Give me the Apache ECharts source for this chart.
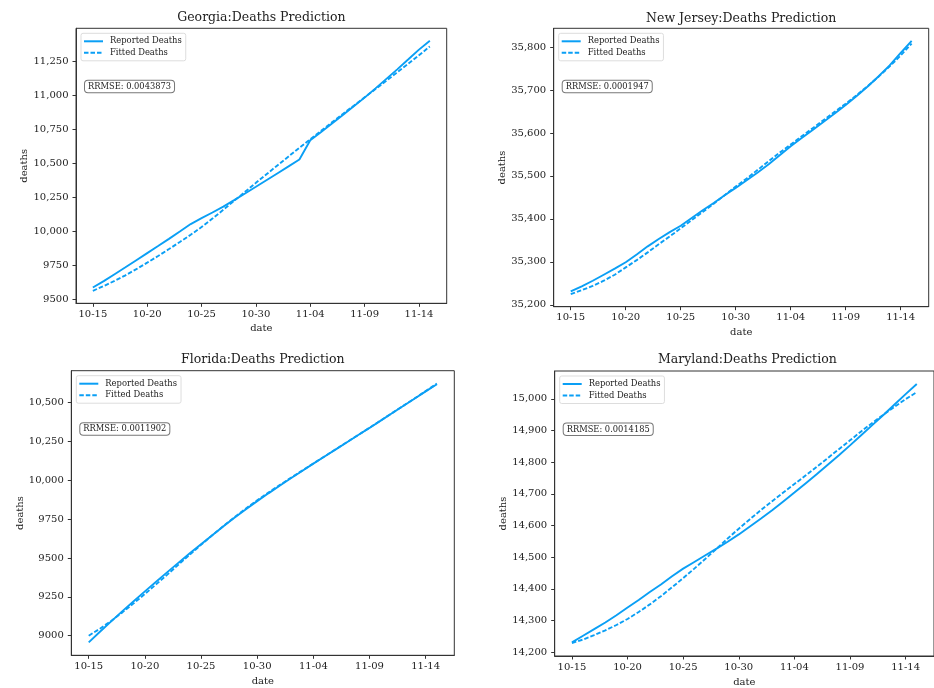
<!DOCTYPE html>
<html>
<head>
<meta charset="utf-8">
<script src="https://cdn.jsdelivr.net/npm/echarts@6/dist/echarts.min.js"></script>
<style>
  html, body { margin: 0; padding: 0; background: #fff; }
  #chart { width: 934px; height: 688px; }
</style>
</head>
<body>
<div id="chart"></div>
<script>
// Dates covered by every panel (day index 0 .. 31)
const dates = ['10-15','10-16','10-17','10-18','10-19','10-20','10-21','10-22','10-23','10-24',
  '10-25','10-26','10-27','10-28','10-29','10-30','10-31','11-01','11-02','11-03',
  '11-04','11-05','11-06','11-07','11-08','11-09','11-10','11-11','11-12','11-13',
  '11-14','11-15'];
const xTickDays = [0, 5, 10, 15, 20, 25, 30];

// Georgia
const georgiaReported = [9585, 9632, 9683, 9734, 9786, 9838, 9890, 9943, 9997, 10052,
  10095, 10137, 10180, 10228, 10277, 10326, 10376, 10426, 10476, 10527,
  10668, 10730, 10792, 10855, 10918, 10982, 11050, 11120, 11190, 11262, 11335, 11400];
const georgiaFitted = [9561, 9596, 9634, 9675, 9720, 9768, 9817, 9868, 9920, 9973,
  10030, 10092, 10157, 10223, 10289, 10355, 10420, 10485, 10549, 10613,
  10676, 10738, 10800, 10862, 10923, 10984, 11045, 11106, 11168, 11230, 11294, 11358];
const georgiaTicks = [9500, 9750, 10000, 10250, 10500, 10750, 11000, 11250];
const georgiaRRMSE = 'RRMSE: 0.0043873';

// New Jersey
const newJerseyReported = [35231, 35243, 35256, 35270, 35284, 35299, 35317, 35336, 35353, 35369,
  35384, 35402, 35420, 35437, 35455, 35472, 35490, 35508, 35527, 35548,
  35569, 35588, 35607, 35626, 35645, 35665, 35686, 35708, 35732, 35757, 35786, 35814];
const newJerseyFitted = [35225, 35234, 35244, 35256, 35270, 35287, 35304, 35322, 35341, 35359,
  35378, 35397, 35416, 35435, 35455, 35475, 35494, 35514, 35534, 35554,
  35573, 35592, 35611, 35630, 35649, 35668, 35688, 35709, 35731, 35755, 35780, 35808];
const newJerseyTicks = [35200, 35300, 35400, 35500, 35600, 35700, 35800];
const newJerseyRRMSE = 'RRMSE: 0.0001947';

// Florida
const floridaReported = [8957, 9025, 9092, 9158, 9222, 9285, 9347, 9409, 9470, 9530,
  9589, 9647, 9704, 9760, 9814, 9866, 9916, 9965, 10013, 10060,
  10107, 10153, 10199, 10245, 10291, 10337, 10384, 10431, 10478, 10525, 10572, 10618];
const floridaFitted = [9000, 9045, 9095, 9150, 9208, 9268, 9330, 9393, 9458, 9522,
  9585, 9646, 9706, 9764, 9819, 9871, 9921, 9969, 10016, 10062,
  10108, 10154, 10200, 10246, 10292, 10338, 10385, 10432, 10479, 10526, 10574, 10622];
const floridaTicks = [9000, 9250, 9500, 9750, 10000, 10250, 10500];
const floridaRRMSE = 'RRMSE: 0.0011902';

// Maryland
const marylandReported = [14231, 14252, 14273, 14294, 14317, 14341, 14365, 14390, 14414, 14440,
  14464, 14485, 14506, 14527, 14549, 14572, 14597, 14622, 14648, 14676,
  14704, 14733, 14762, 14792, 14822, 14853, 14885, 14917, 14949, 14982, 15015, 15047];
const marylandFitted = [14229, 14240, 14254, 14269, 14286, 14305, 14327, 14351, 14377, 14405,
  14434, 14464, 14495, 14527, 14559, 14590, 14620, 14649, 14677, 14704,
  14731, 14758, 14785, 14813, 14841, 14869, 14897, 14924, 14950, 14975, 14999, 15021];
const marylandTicks = [14200, 14300, 14400, 14500, 14600, 14700, 14800, 14900, 15000];
const marylandRRMSE = 'RRMSE: 0.0014185';

const LINE_COLOR = '#0a9ff5';
const INK = '#222';
const FRAME = '#333';
const FONT = '"DejaVu Serif", "Liberation Serif", serif';

// Panel geometry: plot box [left, top, width, height] plus label offsets
const panels = [
  { title: 'Georgia:Deaths Prediction', reported: georgiaReported, fitted: georgiaFitted,
    ticks: georgiaTicks, rrmse: georgiaRRMSE, box: [76, 28.3, 370.7, 275], titleY: 17.5,
    yGap: 40.5, xGap: 20.5 },
  { title: 'New Jersey:Deaths Prediction', reported: newJerseyReported, fitted: newJerseyFitted,
    ticks: newJerseyTicks, rrmse: newJerseyRRMSE, box: [553.7, 28.3, 375, 278.4], titleY: 18.3,
    yGap: 44.5, xGap: 20.5 },
  { title: 'Florida:Deaths Prediction', reported: floridaReported, fitted: floridaFitted,
    ticks: floridaTicks, rrmse: floridaRRMSE, box: [71.3, 370.7, 383, 284.6], titleY: 359.3,
    yGap: 44.5, xGap: 21 },
  { title: 'Maryland:Deaths Prediction', reported: marylandReported, fitted: marylandFitted,
    ticks: marylandTicks, rrmse: marylandRRMSE, box: [554.7, 371, 385.3, 285.7], titleY: 360,
    yGap: 44.5, xGap: 21 }
];

// matplotlib-style 5% autoscale margins
function paddedRange(lo, hi) {
  const pad = (hi - lo) * 0.05;
  return [lo - pad, hi + pad];
}
function fmtDeaths(v) {
  const s = String(Math.round(v));
  return v >= 10000 ? s.replace(/\B(?=(\d{3})+(?!\d))/g, ',') : s;
}

const option = {
  backgroundColor: '#fff',
  animation: false,
  grid: [], xAxis: [], yAxis: [], series: [], legend: [], graphic: []
};

const xRange = paddedRange(0, dates.length - 1);

panels.forEach((p, k) => {
  const [left, top, width, height] = p.box;
  const all = p.reported.concat(p.fitted);
  const yRange = paddedRange(Math.min(...all), Math.max(...all));

  option.grid.push({
    left: left, top: top, width: width, height: height,
    show: true, borderColor: FRAME, borderWidth: 1, backgroundColor: 'transparent'
  });

  option.xAxis.push({
    type: 'value', gridIndex: k, min: xRange[0], max: xRange[1], position: 'bottom',
    name: 'date', nameLocation: 'middle', nameGap: p.xGap,
    nameTextStyle: { fontFamily: FONT, fontSize: 10, color: INK },
    axisLine: { show: true, onZero: false, lineStyle: { color: FRAME, width: 1 } },
    splitLine: { show: false },
    axisTick: { show: true, inside: false, customValues: xTickDays, length: 3.5,
      lineStyle: { color: FRAME, width: 1 } },
    axisLabel: { customValues: xTickDays, margin: 6, fontFamily: FONT, fontSize: 10, color: INK,
      formatter: v => dates[Math.round(v)] }
  });

  option.yAxis.push({
    type: 'value', gridIndex: k, min: yRange[0], max: yRange[1], position: 'left',
    name: 'deaths', nameLocation: 'middle', nameGap: p.yGap, nameRotate: 90,
    nameTextStyle: { fontFamily: FONT, fontSize: 10, color: INK },
    axisLine: { show: true, onZero: false, lineStyle: { color: FRAME, width: 1 } },
    splitLine: { show: false },
    axisTick: { show: true, inside: false, customValues: p.ticks, length: 3.5,
      lineStyle: { color: FRAME, width: 1 } },
    axisLabel: { customValues: p.ticks, margin: 7.5, fontFamily: FONT, fontSize: 10, color: INK,
      formatter: fmtDeaths }
  });

  option.series.push({
    name: 'Reported Deaths', type: 'line', xAxisIndex: k, yAxisIndex: k,
    data: p.reported.map((v, i) => [i, v]),
    showSymbol: false, symbol: 'none',
    lineStyle: { color: LINE_COLOR, width: 1.9 }, itemStyle: { color: LINE_COLOR }
  });
  option.series.push({
    name: 'Fitted Deaths', type: 'line', xAxisIndex: k, yAxisIndex: k,
    data: p.fitted.map((v, i) => [i, v]),
    showSymbol: false, symbol: 'none',
    lineStyle: { color: LINE_COLOR, width: 1.9, type: [4.5, 2] }, itemStyle: { color: LINE_COLOR }
  });

  option.legend.push({
    orient: 'vertical', left: left + 5, top: top + 5,
    data: ['Reported Deaths', 'Fitted Deaths'],
    itemWidth: 19, itemHeight: 8, itemGap: 3.5,
    padding: [4, 4, 4, 2],
    borderColor: '#ddd', borderWidth: 1, borderRadius: 2,
    itemStyle: { opacity: 0 },
    textStyle: { fontFamily: FONT, fontSize: 8.4, color: INK, padding: [0, 0, 0, 2] },
    selectedMode: false
  });

  option.graphic.push({
    type: 'text', x: left + width / 2, y: p.titleY, silent: true,
    style: { text: p.title, font: '12.5px ' + FONT, fill: INK, align: 'center', verticalAlign: 'middle' }
  });
  option.graphic.push({
    type: 'text', x: left + 9, y: top + 52.5, silent: true,
    style: { text: p.rrmse, font: '8.3px ' + FONT, fill: INK, align: 'left', verticalAlign: 'top',
      padding: [2, 3, 1.5, 3], borderColor: '#777', borderWidth: 1, borderRadius: 3, backgroundColor: '#fff' }
  });
});

const chart = echarts.init(document.getElementById('chart'), null, { renderer: 'canvas' });
chart.setOption(option);
</script>
</body>
</html>
